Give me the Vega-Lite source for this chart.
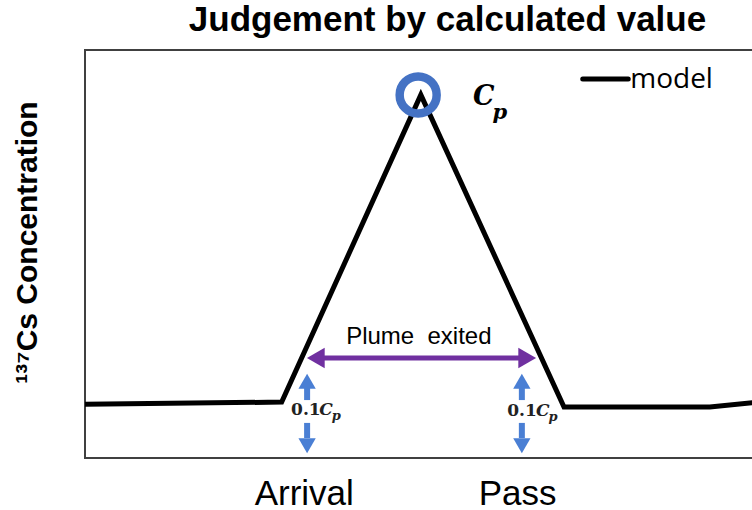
{
  "$schema": "https://vega.github.io/schema/vega-lite/v6.json",
  "width": 669,
  "height": 408,
  "autosize": {"type": "none"},
  "padding": {"left": 85, "top": 50, "right": 0, "bottom": 52},
  "background": "white",
  "config": {
    "view": {"stroke": "#404040", "strokeWidth": 2},
    "font": "Liberation Sans",
    "axis": {"grid": false}
  },
  "title": {
    "text": "Judgement by calculated value",
    "font": "Liberation Sans",
    "fontSize": 35,
    "fontWeight": "bold",
    "color": "black",
    "anchor": "middle",
    "dx": 28,
    "dy": 37,
    "offset": 21,
    "baseline": "alphabetic"
  },
  "datasets": {
    "model": [
      {"x": 0, "y": 13.2},
      {"x": 29.4, "y": 13.7},
      {"x": 50.2, "y": 89.0},
      {"x": 71.6, "y": 12.5},
      {"x": 93.4, "y": 12.5},
      {"x": 100, "y": 13.6}
    ],
    "peak": [{"x": 49.8, "y": 89.0}],
    "legendLine": [{"x": 74.4, "x2": 81.2, "y": 92.9}],
    "legendText": [{"x": 81.5, "y": 90.7, "text": "model"}],
    "cpBig": [{"x": 58.0, "y": 86.5, "text": "C"}],
    "cpSub": [{"x": 60.9, "y": 83.0, "text": "p"}],
    "ratioNum": [{"x": 30.8, "y": 10.5, "text": "0.1"}, {"x": 63.1, "y": 10.3, "text": "0.1"}],
    "ratioC": [{"x": 35.0, "y": 10.5, "text": "C"}, {"x": 67.4, "y": 10.3, "text": "C"}],
    "ratioP": [{"x": 36.9, "y": 9.2, "text": "p"}, {"x": 69.3, "y": 9.0, "text": "p"}],
    "plumeText": [{"x": 49.9, "y": 27.9, "text": "Plume\u00a0 exited"}],
    "plumeShaft": [{"x": 34.0, "x2": 66.6, "y": 24.5}],
    "plumeHeads": [{"x": 34.5, "y": 24.5, "shape": "triangle-left"}, {"x": 66.1, "y": 24.5, "shape": "triangle-right"}],
    "blueShafts": [
      {"x": 33.2, "y": 14.2, "y2": 17.6},
      {"x": 33.2, "y": 8.6, "y2": 4.9},
      {"x": 65.3, "y": 14.2, "y2": 17.6},
      {"x": 65.3, "y": 8.6, "y2": 4.9}
    ],
    "blueHeads": [
      {"x": 33.2, "y": 18.8, "shape": "triangle-up"},
      {"x": 33.2, "y": 3.0, "shape": "triangle-down"},
      {"x": 65.3, "y": 18.8, "shape": "triangle-up"},
      {"x": 65.3, "y": 3.0, "shape": "triangle-down"}
    ]
  },
  "encoding": {
    "x": {
      "field": "x",
      "type": "quantitative",
      "scale": {"domain": [0, 100], "nice": false, "zero": false},
      "axis": {
        "title": null,
        "values": [32.7, 64.6],
        "labelExpr": "datum.value < 50 ? 'Arrival' : 'Pass'",
        "ticks": false,
        "tickSize": 0,
        "domain": false,
        "grid": false,
        "labelFont": "Liberation Sans",
        "labelFontSize": 35,
        "labelColor": "black",
        "labelBaseline": "alphabetic",
        "labelPadding": 46,
        "labelFlush": false,
        "labelOverlap": false
      }
    },
    "y": {
      "field": "y",
      "type": "quantitative",
      "scale": {"domain": [0, 100], "nice": false, "zero": false},
      "axis": {
        "title": "\u00b9\u00b3\u2077Cs Concentration",
        "titleFont": "Liberation Sans",
        "titleFontSize": 30,
        "titleFontWeight": "bold",
        "titleColor": "black",
        "titlePadding": 43,
        "titleY": 192,
        "labels": false,
        "ticks": false,
        "tickSize": 0,
        "domain": false,
        "grid": false
      }
    }
  },
  "layer": [
    {
      "data": {"name": "model"},
      "mark": {"type": "line", "color": "black", "strokeWidth": 5, "strokeJoin": "miter"}
    },
    {
      "data": {"name": "peak"},
      "mark": {"type": "point", "shape": "circle", "filled": false, "stroke": "#4472C4", "strokeWidth": 8.5, "size": 1369, "opacity": 1}
    },
    {
      "data": {"name": "legendLine"},
      "mark": {"type": "rule", "color": "black", "strokeWidth": 5, "strokeCap": "round"},
      "encoding": {"x2": {"field": "x2"}}
    },
    {
      "data": {"name": "legendText"},
      "mark": {"type": "text", "font": "Open Sans", "fontSize": 28, "align": "left", "baseline": "alphabetic", "color": "black"},
      "encoding": {"text": {"field": "text"}}
    },
    {
      "data": {"name": "cpBig"},
      "mark": {"type": "text", "font": "DejaVu Serif", "fontStyle": "italic", "fontWeight": "bold", "fontSize": 27, "align": "left", "baseline": "alphabetic", "color": "black"},
      "encoding": {"text": {"field": "text"}}
    },
    {
      "data": {"name": "cpSub"},
      "mark": {"type": "text", "font": "DejaVu Serif", "fontStyle": "italic", "fontWeight": "bold", "fontSize": 21, "align": "left", "baseline": "alphabetic", "color": "black"},
      "encoding": {"text": {"field": "text"}}
    },
    {
      "data": {"name": "plumeShaft"},
      "mark": {"type": "rule", "color": "#7030A0", "strokeWidth": 5},
      "encoding": {"x2": {"field": "x2"}}
    },
    {
      "data": {"name": "plumeHeads"},
      "mark": {"type": "point", "filled": true, "color": "#7030A0", "size": 420, "opacity": 1},
      "encoding": {"shape": {"field": "shape", "type": "nominal", "scale": null}}
    },
    {
      "data": {"name": "plumeText"},
      "mark": {"type": "text", "font": "Liberation Sans", "fontSize": 24, "align": "center", "baseline": "alphabetic", "color": "black"},
      "encoding": {"text": {"field": "text"}}
    },
    {
      "data": {"name": "blueShafts"},
      "mark": {"type": "rule", "color": "#4A7FD4", "strokeWidth": 6},
      "encoding": {"y2": {"field": "y2"}}
    },
    {
      "data": {"name": "blueHeads"},
      "mark": {"type": "point", "filled": true, "color": "#4A7FD4", "size": 300, "opacity": 1},
      "encoding": {"shape": {"field": "shape", "type": "nominal", "scale": null}}
    },
    {
      "data": {"name": "ratioNum"},
      "mark": {"type": "text", "font": "DejaVu Serif", "fontWeight": "bold", "fontSize": 17, "align": "left", "baseline": "alphabetic", "color": "#222222"},
      "encoding": {"text": {"field": "text"}}
    },
    {
      "data": {"name": "ratioC"},
      "mark": {"type": "text", "font": "DejaVu Serif", "fontStyle": "italic", "fontWeight": "bold", "fontSize": 17, "align": "left", "baseline": "alphabetic", "color": "#222222"},
      "encoding": {"text": {"field": "text"}}
    },
    {
      "data": {"name": "ratioP"},
      "mark": {"type": "text", "font": "DejaVu Serif", "fontStyle": "italic", "fontWeight": "bold", "fontSize": 13, "align": "left", "baseline": "alphabetic", "color": "#222222"},
      "encoding": {"text": {"field": "text"}}
    }
  ]
}
